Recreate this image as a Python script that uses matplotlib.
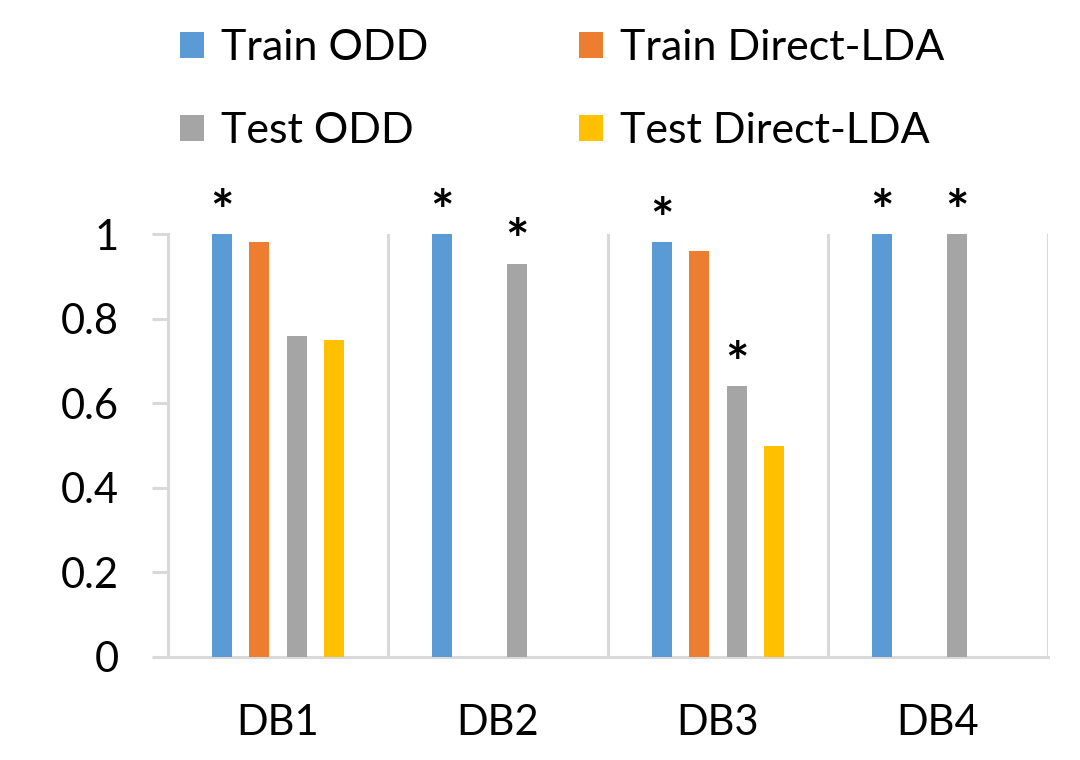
import numpy as np
import matplotlib
matplotlib.use("Agg")
import matplotlib.pyplot as plt

plt.rcParams["font.family"] = ["Lato", "DejaVu Sans"]

categories = ["DB1", "DB2", "DB3", "DB4"]
series = ["Train ODD", "Train Direct-LDA", "Test ODD", "Test Direct-LDA"]
values = {
    "Train ODD":        [1.00, 1.00, 0.98, 1.00],
    "Train Direct-LDA": [0.98, np.nan, 0.96, np.nan],
    "Test ODD":         [0.76, 0.93, 0.64, 1.00],
    "Test Direct-LDA":  [0.75, np.nan, 0.50, np.nan],
}
# which bars carry a significance star
stars = {
    "Train ODD":        [True, True, True, True],
    "Train Direct-LDA": [False, False, False, False],
    "Test ODD":         [False, True, True, True],
    "Test Direct-LDA":  [False, False, False, False],
}
colors = ["#5B9BD5", "#ED7D31", "#A5A5A5", "#FFC000"]
yticks = [0, 0.2, 0.4, 0.6, 0.8, 1]
ytick_labels = ["0", "0.2", "0.4", "0.6", "0.8", "1"]

fig = plt.figure(figsize=(10.8, 7.6), dpi=100)
ax = fig.add_axes([168/1080, 1-657/760, (1048-168)/1080, (657-234)/760])

x = np.arange(len(categories))
step = 0.171
width = 0.091
bars = []
for i, name in enumerate(series):
    pos = x + (i - 1.5) * step
    b = ax.bar(pos, values[name], width, color=colors[i], label=name, zorder=3)
    bars.append(b)
    for p, v, s in zip(pos, values[name], stars[name]):
        if s:
            ax.text(p, v + 0.048, "*", ha="center", va="center", fontsize=40,
                    fontweight="bold", clip_on=False)

ax.set_xlim(-0.5, 3.5)
ax.set_ylim(0, 1)
ax.set_yticks(yticks)
ax.set_yticklabels(ytick_labels)
ax.set_xticks(x)
ax.set_xticklabels(categories)
ax.set_xticks(np.arange(-0.5, 4, 1), minor=True)
ax.grid(True, which="minor", axis="x", color="#D9D9D9", linewidth=2.2, zorder=0)

for side in ["top", "right"]:
    ax.spines[side].set_visible(False)
for side in ["left", "bottom"]:
    ax.spines[side].set_color("#D9D9D9")
    ax.spines[side].set_linewidth(2.2)

ax.tick_params(axis="y", which="major", length=11.5, width=2.2, color="#D9D9D9",
               pad=24, labelsize=30)
ax.tick_params(axis="x", which="both", length=0, pad=34, labelsize=30)

handles = [bars[0], bars[2], bars[1], bars[3]]
labels = [series[0], series[2], series[1], series[3]]
fig.legend(handles, labels, loc="upper left", bbox_to_anchor=(163/1080, 1 - 12/760),
           ncol=2, frameon=False, fontsize=31, handlelength=0.55, handleheight=0.55,
           handletextpad=0.4, labelspacing=1.05, columnspacing=3.5, borderaxespad=0)

fig.savefig("out.png", dpi=100)
